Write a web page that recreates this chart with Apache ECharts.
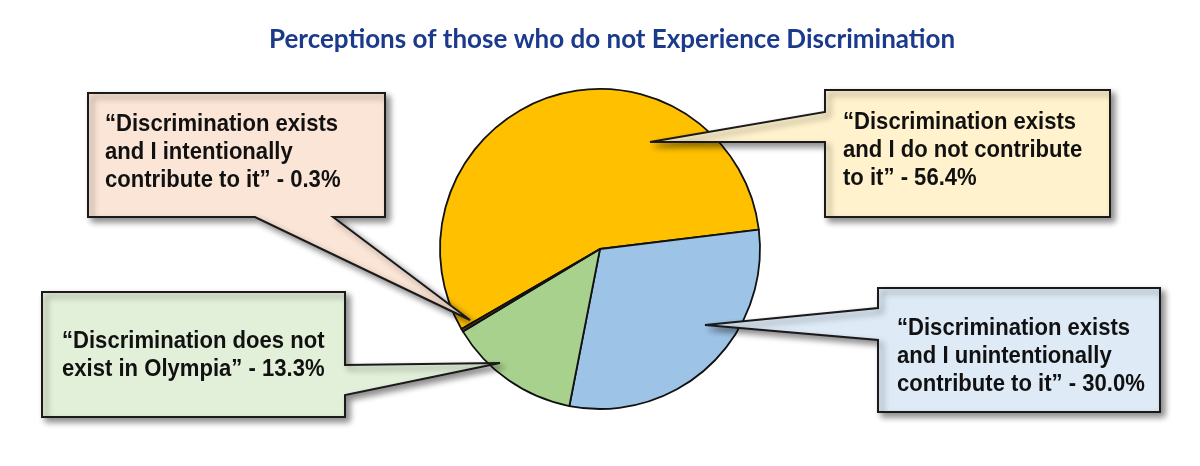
<!DOCTYPE html>
<html>
<head>
<meta charset="utf-8">
<script src="https://cdn.jsdelivr.net/npm/echarts@6/dist/echarts.min.js"></script>
<style>
  html, body { margin: 0; padding: 0; background: #fff; }
  #chart { width: 1200px; height: 466px; }
</style>
</head>
<body>
<div id="chart"></div>
<script>
// 数据
var categories = [
    'Discrimination exists\nand I do not contribute\nto it',
    'Discrimination exists\nand I unintentionally\ncontribute to it',
    'Discrimination does not\nexist in Olympia',
    'Discrimination exists\nand I intentionally\ncontribute to it'
];
var values = [56.4, 30.0, 13.3, 0.3];

// 样式
var sliceColors = ['#FFC000', '#9DC3E6', '#A9D18E', '#5a3a10'];
var boxColors = ['#FFF2CC', '#DEEBF7', '#E2F0D9', '#FBE5D6'];

// 标注框位置 (box + 指针)
var callouts = [
    { box: [825, 90, 1110, 217], side: 'left', base: [112, 142], tip: [650, 142], text: [843, 108] },
    { box: [878, 288, 1160, 412], side: 'left', base: [308, 340], tip: [705, 325], text: [897, 314] },
    { box: [42, 292, 345, 417], side: 'right', base: [365, 395], tip: [500, 363], text: [62, 327] },
    { box: [88, 93, 385, 217], side: 'bottom', base: [255, 333], tip: [470, 320], text: [105, 110] }
];

function calloutPoints(c) {
    var x0 = c.box[0], y0 = c.box[1], x1 = c.box[2], y1 = c.box[3];
    var t = c.tip, b = c.base;
    if (c.side === 'left') {
        return [[x0, y0], [x1, y0], [x1, y1], [x0, y1], [x0, b[1]], t, [x0, b[0]]];
    }
    if (c.side === 'right') {
        return [[x0, y0], [x1, y0], [x1, b[0]], t, [x1, b[1]], [x1, y1], [x0, y1]];
    }
    // bottom
    return [[x0, y0], [x1, y0], [x1, y1], [b[1], y1], t, [b[0], y1], [x0, y1]];
}

var graphics = [];
callouts.forEach(function (c, i) {
    graphics.push({
        type: 'polygon',
        z: 100,
        shape: { points: calloutPoints(c) },
        style: {
            fill: boxColors[i],
            stroke: '#1a1a1a',
            lineWidth: 2,
            shadowBlur: 6,
            shadowColor: 'rgba(0,0,0,0.45)',
            shadowOffsetX: 4,
            shadowOffsetY: 4
        }
    });
    // 用 Liberation Sans 横向压缩模拟 Arial Narrow
    graphics.push({
        type: 'text',
        z: 101,
        x: c.text[0],
        y: c.text[1],
        scaleX: 0.92,
        style: {
            text: '\u201C' + categories[i] + '\u201D - ' + values[i].toFixed(1) + '%',
            font: 'bold 24px "Liberation Sans", Arial, sans-serif',
            fill: '#111',
            lineHeight: 28,
            verticalAlign: 'top'
        }
    });
});

var myChart = echarts.init(document.getElementById('chart'));
myChart.setOption({
    animation: false,
    backgroundColor: '#fff',
    title: {
        text: 'Perceptions of those who do not Experience Discrimination',
        left: 264,
        top: 22,
        textStyle: {
            color: '#1B3A8C',
            fontSize: 26,
            fontWeight: 'bold',
            fontFamily: 'Lato, "Open Sans", sans-serif'
        }
    },
    series: [
        {
            type: 'pie',
            center: [600, 249],
            radius: 160,
            startAngle: 210,
            clockwise: true,
            silent: true,
            label: { show: false },
            labelLine: { show: false },
            itemStyle: { borderColor: '#111', borderWidth: 1.8 },
            data: values.map(function (v, i) {
                return { name: categories[i], value: v, itemStyle: { color: sliceColors[i] } };
            })
        }
    ],
    graphic: graphics
});
</script>
</body>
</html>
